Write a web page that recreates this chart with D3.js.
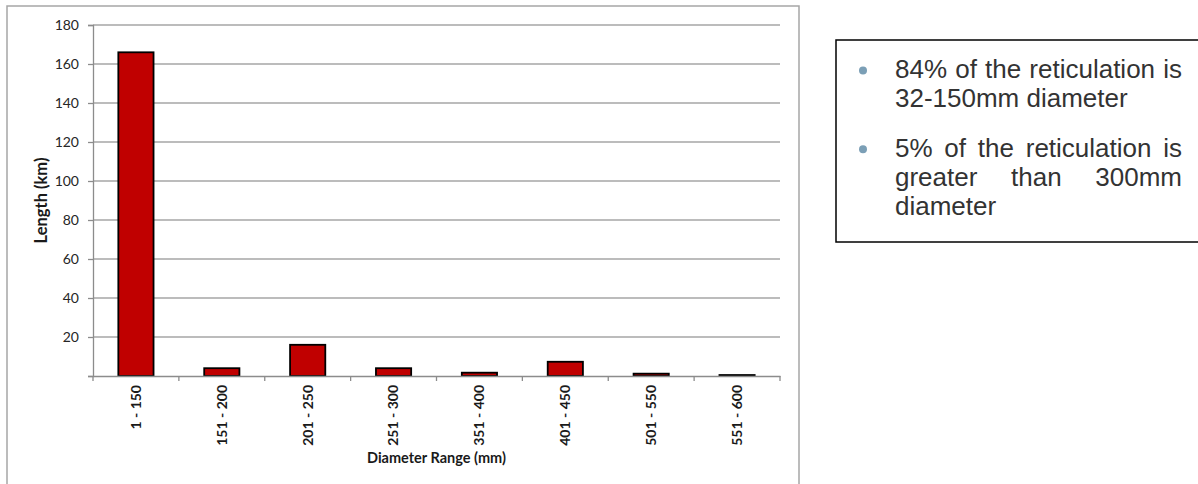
<!DOCTYPE html>
<html>
<head>
<meta charset="utf-8">
<script src="https://cdn.jsdelivr.net/npm/d3@7"></script>
<style>
  html, body { margin: 0; padding: 0; background: #ffffff; }
  svg { display: block; }
</style>
</head>
<body>
<svg id="chart" width="1198" height="484"></svg>
<script>
// Pipe length by diameter range
const categories = ["1 - 150", "151 - 200", "201 - 250", "251 - 300", "351 - 400", "401 - 450", "501 - 550", "551 - 600"];
const lengthKm = [166, 4, 16, 4, 1.7, 7.3, 1.2, 0.5];
const yTickValues = [0, 20, 40, 60, 80, 100, 120, 140, 160, 180];
const yTickLabels = ["", "20", "40", "60", "80", "100", "120", "140", "160", "180"];
const xTitle = "Diameter Range (mm)";
const yTitle = "Length (km)";

// Summary notes: each paragraph is a list of lines
const notes = [
  ["84% of the reticulation is", "32-150mm diameter"],
  ["5% of the reticulation is", "greater than 300mm", "diameter"]
];

const svg = d3.select("#chart");

const plot = { left: 93, right: 780, top: 25, bottom: 376 };
const chartFont = "Lato, 'Open Sans', sans-serif";

// chart frame
svg.append("rect")
  .attr("x", 7).attr("y", 6)
  .attr("width", 792).attr("height", 500)
  .attr("fill", "#ffffff")
  .attr("stroke", "#a6a6a6")
  .attr("stroke-width", 1.5);

const x = d3.scaleBand()
  .domain(categories)
  .range([plot.left, plot.right])
  .padding(0);

const y = d3.scaleLinear()
  .domain([0, 180])
  .range([plot.bottom, plot.top]);

// horizontal gridlines
svg.append("g")
  .selectAll("line")
  .data(yTickValues.filter(v => v > 0))
  .join("line")
  .attr("x1", plot.left).attr("x2", plot.right)
  .attr("y1", d => y(d)).attr("y2", d => y(d))
  .attr("stroke", "#a6a6a6")
  .attr("stroke-width", 1.3);

// y axis
const yAxis = d3.axisLeft(y)
  .tickValues(yTickValues)
  .tickFormat((d, i) => yTickLabels[i])
  .tickSize(5)
  .tickPadding(9);

const gy = svg.append("g")
  .attr("transform", `translate(${plot.left},0)`)
  .call(yAxis);
gy.select(".domain").attr("stroke", "#8c8c8c").attr("stroke-width", 1.3);
gy.selectAll(".tick line").attr("stroke", "#8c8c8c").attr("stroke-width", 1.3);
gy.selectAll(".tick text")
  .attr("font-family", chartFont)
  .attr("font-size", 14)
  .attr("fill", "#262626");

// bars
const barW = x.bandwidth() * 0.41;
svg.append("g")
  .selectAll("rect")
  .data(categories.map((c, i) => ({ c, v: lengthKm[i] })))
  .join("rect")
  .attr("x", d => x(d.c) + x.bandwidth() / 2 - barW / 2)
  .attr("y", d => y(d.v))
  .attr("width", barW)
  .attr("height", d => y(0) - y(d.v))
  .attr("fill", "#c00000")
  .attr("stroke", "#000000")
  .attr("stroke-width", 1.8);

// x axis
const xAxis = d3.axisBottom(x).tickSize(0).tickFormat(d => d);
const gx = svg.append("g")
  .attr("transform", `translate(0,${plot.bottom})`)
  .call(xAxis);
gx.select(".domain").attr("stroke", "#8c8c8c").attr("stroke-width", 1.3);
gx.selectAll(".tick text")
  .attr("font-family", chartFont)
  .attr("font-weight", "bold")
  .attr("font-size", 14)
  .attr("fill", "#1a1a1a")
  .attr("text-anchor", "end")
  .attr("transform", "translate(0,9) rotate(-90)")
  .attr("x", 0).attr("y", 0)
  .attr("dy", "0.35em");

// tick marks at band boundaries
const boundaries = categories.map(c => x(c)).concat([plot.right]);
svg.append("g")
  .selectAll("line")
  .data(boundaries)
  .join("line")
  .attr("x1", d => d).attr("x2", d => d)
  .attr("y1", plot.bottom).attr("y2", plot.bottom + 5)
  .attr("stroke", "#8c8c8c")
  .attr("stroke-width", 1.3);

// axis titles
svg.append("text")
  .attr("x", (plot.left + plot.right) / 2)
  .attr("y", 463)
  .attr("text-anchor", "middle")
  .attr("font-family", chartFont)
  .attr("font-weight", "bold")
  .attr("font-size", 14.5)
  .attr("fill", "#1a1a1a")
  .text(xTitle);

svg.append("text")
  .attr("transform", `translate(47,${(plot.top + plot.bottom) / 2}) rotate(-90)`)
  .attr("text-anchor", "middle")
  .attr("font-family", chartFont)
  .attr("font-weight", "bold")
  .attr("font-size", 16.5)
  .attr("fill", "#1a1a1a")
  .text(yTitle);

// note box
svg.append("rect")
  .attr("x", 836).attr("y", 40)
  .attr("width", 380).attr("height", 202)
  .attr("fill", "#ffffff")
  .attr("stroke", "#000000")
  .attr("stroke-width", 1.5);

const noteFont = "'Liberation Sans', Arial, sans-serif";
const noteSize = 26;
const textLeft = 895, textRight = 1182;
const lineH = 29, paraGap = 20.7;

const measure = svg.append("text")
  .attr("font-family", noteFont)
  .attr("font-size", noteSize)
  .attr("visibility", "hidden");
function widthOf(s) {
  measure.text(s);
  return measure.node().getComputedTextLength();
}

const notesG = svg.append("g");
let baseline = 78;
notes.forEach((lines) => {
  notesG.append("circle")
    .attr("cx", 863)
    .attr("cy", baseline - 7.5)
    .attr("r", 4)
    .attr("fill", "#7b9fb6");
  lines.forEach((line, li) => {
    const words = line.split(" ");
    const last = li === lines.length - 1;
    const t = notesG.append("text")
      .attr("font-family", noteFont)
      .attr("font-size", noteSize)
      .attr("fill", "#333333")
      .attr("y", baseline);
    if (last || words.length < 2) {
      t.append("tspan").attr("x", textLeft).text(line);
    } else {
      // justified line: spread the words across the full width
      const ws = words.map(widthOf);
      const total = d3.sum(ws);
      const gap = (textRight - textLeft - total) / (words.length - 1);
      let cx = textLeft;
      words.forEach((w, wi) => {
        t.append("tspan").attr("x", cx).text(w);
        cx += ws[wi] + gap;
      });
    }
    baseline += lineH;
  });
  baseline += paraGap;
});
measure.remove();
</script>
</body>
</html>
